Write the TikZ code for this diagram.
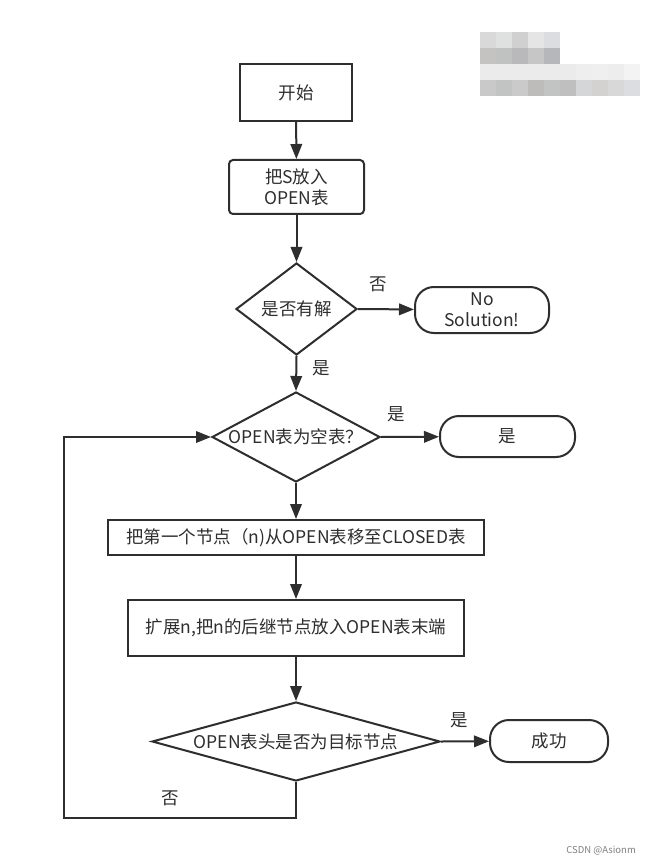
\documentclass[tikz,border=0pt]{standalone}
\usepackage{fontspec}
\setmainfont{Noto Sans CJK SC}
\usetikzlibrary{shapes.geometric,arrows.meta}
\definecolor{ink}{HTML}{2E2E2E}
\tikzset{
  base/.style={draw=ink, line width=2pt, text=ink, font=\fontsize{17.5}{21}\selectfont, inner sep=0pt, fill=white},
  box/.style={base, rectangle},
  rbox/.style={base, rectangle, rounded corners=4pt, align=center},
  pill/.style={base, rectangle, rounded corners=19pt, align=center},
  dia/.style={base, diamond},
  txt/.style={text=ink, font=\fontsize{17.5}{21}\selectfont, inner sep=0pt},
  conn/.style={draw=ink, line width=2pt, -{Triangle[length=15pt,width=11.5pt]}}
}
\begin{document}
\begin{tikzpicture}[x=1pt,y=-1pt]
\useasboundingbox (0,0) rectangle (651,866);
\fill[white] (0,0) rectangle (651,866);
% blurred watermark blocks
\foreach \c [count=\i from 0] in {D9D9D9,DFE0E0,D0D0D0,E5E5E5,DCDDE0}{
  \definecolor{wm}{HTML}{\c}\fill[wm] (480+16*\i,32) rectangle (496+16*\i,48);}
\foreach \c [count=\i from 0] in {C4C3C1,C0C2C2,B9B9BB,C6C6C6,B6B7BA}{
  \definecolor{wm}{HTML}{\c}\fill[wm] (480+16*\i,48) rectangle (496+16*\i,64);}
\foreach \c [count=\i from 0] in {EBEBEB,EBEBEB,EBEBEB,EBEBEB,EBEBEB,EBEBEB,EEEEEE,EFEFEF,EDEDED,F3F3F3}{
  \definecolor{wm}{HTML}{\c}\fill[wm] (480+16*\i,64) rectangle (496+16*\i,80);}
\foreach \c [count=\i from 0] in {C9C9C9,C2C4C4,CACACA,BEBCBB,C2C4C4,BFBFBF,D5D6D8,D3D2D1,D8D8D8,DCDDE0}{
  \definecolor{wm}{HTML}{\c}\fill[wm] (480+16*\i,80) rectangle (496+16*\i,96);}

% nodes
\node[box, minimum width=112pt, minimum height=57pt] (start) at (296,92.5) {开始};
\node[rbox, minimum width=135pt, minimum height=54pt] (s1) at (296.5,187) {把S放入\\OPEN表};
\node[dia, minimum width=121pt, minimum height=92pt] (d1) at (296.5,309) {};
\node[txt] (d1t) at (d1) {是否有解};
\node[pill, minimum width=134pt, minimum height=46pt] (ns) at (482,310) {No\\Solution!};
\node[dia, minimum width=168pt, minimum height=90pt] (d2) at (296,437) {};
\node[txt] (d2t) at (d2) {OPEN表为空表？};
\node[pill, minimum width=135pt, minimum height=41pt] (yes) at (507.5,436.5) {是};
\node[box, minimum width=376pt, minimum height=35pt] (b1) at (296,537.5) {把第一个节点（n)从OPEN表移至CLOSED表};
\node[box, minimum width=336pt, minimum height=56pt] (b2) at (296,628) {扩展n,把n的后继节点放入OPEN表末端};
\node[dia, minimum width=288pt, minimum height=79pt] (d3) at (296,741.5) {};
\node[txt] (d3t) at (d3) {OPEN表头是否为目标节点};
\node[pill, minimum width=118pt, minimum height=42pt] (succ) at (549,741) {成功};

% labels
\node[txt] (l1) at (378,284) {否};
\node[txt] (l2) at (321,368) {是};
\node[txt] (l3) at (396,414) {是};
\node[txt] (l4) at (459,720) {是};
\node[txt] (l5) at (170,798) {否};
\node[text=gray, font=\fontsize{9.5}{11}\selectfont, inner sep=0pt, anchor=east] (wmk) at (636,851) {CSDN @Asionm};

% connectors
\coordinate (c1) at (296,818);
\coordinate (c2) at (64,818);
\coordinate (c3) at (64,437);
\draw[conn] (start) -- (s1);
\draw[conn] (s1) -- (d1.north);
\draw[conn] (d1.east) -- (ns);
\draw[conn] (d1.south) -- (d2.north);
\draw[conn] (d2.east) -- (yes);
\draw[conn] (d2.south) -- (b1);
\draw[conn] (b1) -- (b2);
\draw[conn] (b2) -- (d3.north);
\draw[conn] (d3.east) -- (succ);
\draw[conn] (d3.south) -- (c1) -- (c2) -- (c3) -- (d2.west);
\end{tikzpicture}
\end{document}
